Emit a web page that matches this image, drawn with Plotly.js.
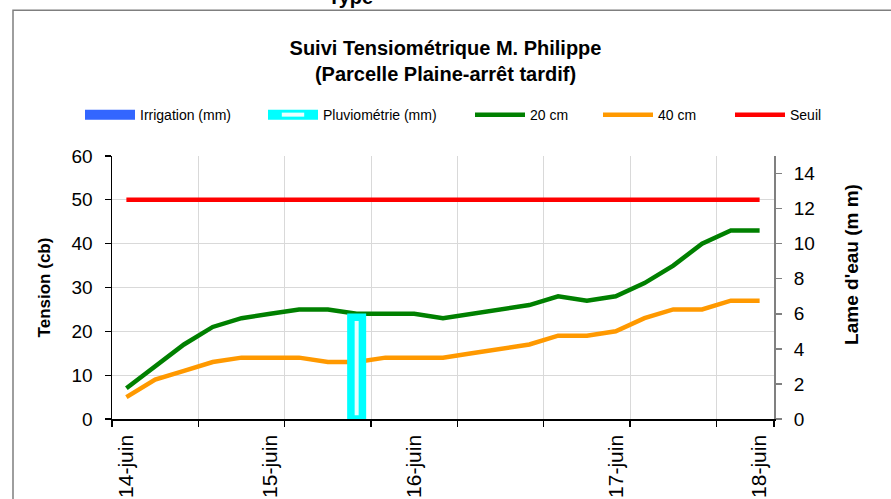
<!DOCTYPE html>
<html>
<head>
<meta charset="utf-8">
<script src="https://cdn.plot.ly/plotly-3.0.1.min.js"></script>
<style>
  html, body { margin: 0; padding: 0; background: #ffffff; overflow: hidden; }
  #chart { width: 891px; height: 499px; }
</style>
</head>
<body>
<div id="chart"></div>
<script>
// ---- data ----
const dateLabels = ['14-juin','','','','','15-juin','','','','','16-juin','','','','','','','17-juin','','','','','18-juin'];
const irrigation = [0,0,0,0,0,0,0,0,0,0,0,0,0,0,0,0,0,0,0,0,0,0,0];
const pluviometrie = [0,0,0,0,0,0,0,0,5.8,0,0,0,0,0,0,0,0,0,0,0,0,0,0];
const tension20 = [7,12,17,21,23,24,25,25,24,24,24,23,24,25,26,28,27,28,31,35,40,43,43];
const tension40 = [5,9,11,13,14,14,14,13,13,14,14,14,15,16,17,19,19,20,23,25,25,27,27];
const seuil = [50,50,50,50,50,50,50,50,50,50,50,50,50,50,50,50,50,50,50,50,50,50,50];

const idx = dateLabels.map((_, i) => i);
const labelVals = idx.filter(i => dateLabels[i] !== '');
const labelText = labelVals.map(i => dateLabels[i]);
const boundaries = idx.filter(i => i % 3 === 0).map(i => i - 0.5).concat([dateLabels.length - 0.5]);

const FONT = 'Liberation Sans, Arial, sans-serif';
const IRR_COLOR = '#3366ff', PLU_LINE = '#00ffff', PLU_FILL = '#eaffff';

const traces = [
  // bars (their legend entries are the swatch traces below)
  { type: 'bar', name: 'Irrigation (mm)', x: idx, y: irrigation.map(v => v || null), yaxis: 'y2',
    width: 0.4, marker: { color: IRR_COLOR, line: { width: 0 } }, showlegend: false },
  { type: 'bar', name: 'Pluviométrie (mm)', x: idx, y: pluviometrie.map(v => v || null), yaxis: 'y2',
    width: 0.4, marker: { color: PLU_FILL, line: { color: PLU_LINE, width: 7.5 } }, showlegend: false },
  // legend swatches for the bar series (no data points)
  { type: 'scatter', mode: 'lines', name: 'Irrigation (mm)', x: [null], y: [null], yaxis: 'y2',
    line: { color: IRR_COLOR, width: 10 }, legend: 'legend' },
  { type: 'scatter', mode: 'lines+markers', name: 'Pluviométrie (mm)', x: [null], y: [null], yaxis: 'y2',
    line: { color: PLU_LINE, width: 10 },
    marker: { symbol: 'line-ew', size: 40, color: PLU_FILL, line: { color: PLU_FILL, width: 4 } },
    legend: 'legend2' },
  { type: 'scatter', mode: 'lines', name: '20 cm', x: idx, y: tension20,
    line: { color: '#008000', width: 4.5 }, legend: 'legend3' },
  { type: 'scatter', mode: 'lines', name: '40 cm', x: idx, y: tension40,
    line: { color: '#ff9900', width: 4.5 }, legend: 'legend4' },
  { type: 'scatter', mode: 'lines', name: 'Seuil', x: idx, y: seuil,
    line: { color: '#ff0000', width: 4.5 }, legend: 'legend5' }
];

const L = 112, R = 774, T = 156, B = 419.3;
const px2x = p => (p - L) / (R - L);
const px2y = p => (B - p) / (B - T);

function leg(xpx) {
  return { orientation: 'h', x: px2x(xpx), xanchor: 'left', y: px2y(115), yanchor: 'middle',
           font: { family: FONT, size: 14, color: '#000' }, bgcolor: 'rgba(0,0,0,0)',
           itemwidth: 50, tracegroupgap: 0 };
}

const layout = {
  width: 891, height: 499,
  margin: { l: 112, r: 117, t: 156, b: 80 },
  paper_bgcolor: '#ffffff', plot_bgcolor: '#ffffff',
  font: { family: FONT, color: '#000' },
  barmode: 'overlay',
  showlegend: true,
  title: {
    text: '<b>Suivi Tensiométrique M. Philippe</b><br><b>(Parcelle Plaine-arrêt tardif)</b>',
    font: { family: FONT, size: 20, color: '#000' },
    x: 0.5, xref: 'container', xanchor: 'center',
    y: 1 - 55 / 499, yref: 'container', yanchor: 'middle'
  },
  xaxis: {
    range: [-0.5, dateLabels.length - 0.5],
    tickmode: 'array', tickvals: labelVals, ticktext: labelText,
    tickangle: -90, ticks: '', showgrid: false, zeroline: false,
    showline: true, linecolor: '#000', linewidth: 1.5,
    tickfont: { family: FONT, size: 21, color: '#000' },
    ticklabelstandoff: 6,
    minor: { tickmode: 'array', tickvals: boundaries, ticks: 'outside', ticklen: 6,
             tickcolor: '#000', tickwidth: 1.2, showgrid: true, gridcolor: '#d9d9d9', gridwidth: 1 }
  },
  yaxis: {
    range: [0, 60], tickmode: 'linear', tick0: 0, dtick: 10,
    showgrid: true, gridcolor: '#d9d9d9', gridwidth: 1, zeroline: false,
    showline: true, linecolor: '#000', linewidth: 1.5,
    ticks: 'outside', ticklen: 6, tickcolor: '#000', tickwidth: 1.2,
    tickfont: { family: FONT, size: 19, color: '#000' },
    ticklabelstandoff: 8,
    title: { text: '<b>Tension (cb)</b>', font: { family: FONT, size: 17, color: '#000' }, standoff: 16 }
  },
  yaxis2: {
    overlaying: 'y', side: 'right',
    range: [0, 15], tickmode: 'linear', tick0: 0, dtick: 2,
    showgrid: false, zeroline: false,
    showline: true, linecolor: '#808080', linewidth: 2,
    ticks: 'outside', ticklen: 6, tickcolor: '#808080', tickwidth: 1.5,
    tickfont: { family: FONT, size: 19, color: '#000' },
    ticklabelstandoff: 8
  },
  legend: leg(80),
  legend2: leg(263),
  legend3: leg(470),
  legend4: leg(598),
  legend5: leg(730),
  annotations: [
    { text: '<b>Type</b>', xref: 'paper', yref: 'paper', x: px2x(350), y: px2y(9.5),
      xanchor: 'center', yanchor: 'bottom', showarrow: false,
      font: { family: FONT, size: 20, color: '#000' } },
    { text: "<b>Lame d'eau (m m)</b>", xref: 'paper', yref: 'paper', x: px2x(852), y: px2y(265),
      xanchor: 'center', yanchor: 'middle', textangle: -90, showarrow: false,
      font: { family: FONT, size: 19, color: '#000' } }
  ],
  shapes: [
    { type: 'rect', xref: 'paper', yref: 'paper', x0: px2x(13), x1: px2x(1000), y0: px2y(1000), y1: px2y(10),
      line: { color: '#7f7f7f', width: 1.5 }, fillcolor: 'rgba(0,0,0,0)', layer: 'below' }
  ]
};

Plotly.newPlot('chart', traces, layout, { staticPlot: true, displayModeBar: false });
</script>
</body>
</html>
